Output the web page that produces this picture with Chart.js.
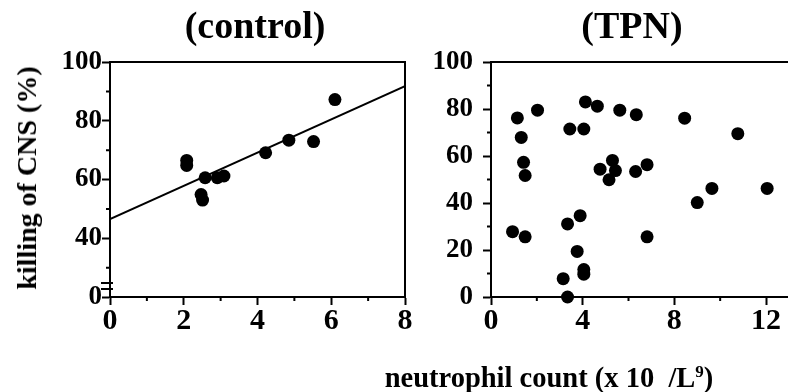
<!DOCTYPE html>
<html>
<head>
<meta charset="utf-8">
<script src="https://cdn.jsdelivr.net/npm/chart.js@4/dist/chart.umd.min.js"></script>
<style>
  body { margin: 0; background: #fff; width: 788px; height: 392px; overflow: hidden; position: relative; font-family: "Liberation Serif", serif; }
  .box { position: absolute; top: 0; height: 392px; }
  .lbl { position: absolute; font-weight: bold; color: #000; white-space: nowrap; line-height: 1; }
  .title { font-size: 38px; top: 6px; transform: translateX(-50%); }
  #ylab { font-size: 28px; left: 27px; top: 178px; transform: translate(-50%, -50%) rotate(-90deg); }
  #xlab { font-size: 28.5px; left: 549px; top: 364px; transform: translateX(-50%); }
  sup { font-size: 17px; line-height: 0; }
</style>
</head>
<body>
<div class="box" style="left:0;width:440px"><canvas id="controlChart" width="440" height="392"></canvas></div>
<div class="box" style="left:420px;width:380px"><canvas id="tpnChart" width="380" height="392"></canvas></div>
<div class="lbl title" style="left:255px">(control)</div>
<div class="lbl title" style="left:632px">(TPN)</div>
<div class="lbl" id="ylab">killing of CNS (%)</div>
<div class="lbl" id="xlab">neutrophil count (x 10&nbsp;&nbsp;/L<sup>9</sup>)</div>
<script>
// control group: neutrophil count vs killing
const controlX = [2.08, 2.08, 2.47, 2.51, 2.58, 2.91, 3.09, 4.22, 4.85, 5.52, 6.10];
const controlY = [66.5, 64.8, 54.9, 53.0, 60.6, 60.6, 61.2, 69.1, 73.4, 72.9, 87.2];
// regression line end points
const fitX = [0, 8];
const fitY = [46.5, 91.8];

// TPN group
const tpnX = [0.94, 1.15, 1.32, 1.42, 1.49, 1.49, 2.03, 3.15, 3.34, 3.34, 3.44, 3.76, 3.89, 4.05, 4.05, 4.05,
              4.12, 4.64, 4.76, 5.15, 5.30, 5.43, 5.62, 6.31, 6.34, 6.81, 6.81, 8.45, 9.0, 9.64, 10.77, 12.05];
const tpnY = [27.8, 76.2, 67.9, 57.3, 51.7, 25.6, 79.5, 7.8, 0, 31.1, 71.5, 19.4, 34.6, 71.5, 11.7, 9.7,
              83.0, 81.2, 54.4, 49.9, 58.1, 53.8, 79.5, 53.4, 77.6, 56.3, 25.6, 76.1, 40.2, 46.2, 69.5, 46.2];

const controlXTicks = [0, 2, 4, 6, 8];
const controlYTicks = [20, 40, 60, 80, 100];   // 20 sits on the broken axis and reads "0"
const tpnXTicks = [0, 4, 8, 12];
const tpnYTicks = [0, 20, 40, 60, 80, 100];

const YFONT = { family: 'Liberation Serif', size: 27, weight: 'bold' };
const XFONT = { family: 'Liberation Serif', size: 30, weight: 'bold' };

function pts(xs, ys) {
  return xs.map((x, i) => ({ x: x, y: ys[i] }));
}

// minor ticks, top/right frame and axis break
const framePlugin = {
  id: 'frame',
  afterDraw(chart, args, opts) {
    const c = chart.ctx;
    const a = chart.chartArea;
    const xs = chart.scales.x, ys = chart.scales.y;
    c.save();
    c.strokeStyle = '#000';
    c.lineWidth = 2;
    c.beginPath();
    c.moveTo(a.left, a.top);
    c.lineTo(a.right, a.top);
    if (opts.right) {
      c.lineTo(a.right, a.bottom);
    }
    opts.minorX.forEach(v => {
      const p = xs.getPixelForValue(v);
      c.moveTo(p, a.bottom);
      c.lineTo(p, a.bottom + 4);
    });
    opts.minorY.forEach(v => {
      const p = ys.getPixelForValue(v);
      c.moveTo(a.left, p);
      c.lineTo(a.left - 4, p);
    });
    if (opts.brk) {
      c.moveTo(a.left - 9, a.bottom - 14);
      c.lineTo(a.left + 3, a.bottom - 14);
      c.moveTo(a.left - 9, a.bottom - 8);
      c.lineTo(a.left + 3, a.bottom - 8);
    }
    c.stroke();
    c.restore();
  }
};

function axis(min, max, vals, fit, ticks) {
  return {
    type: 'linear',
    min: min,
    max: max,
    afterBuildTicks: s => { s.ticks = vals.map(v => ({ value: v })); },
    afterFit: fit,
    border: { display: true, color: '#000', width: 2 },
    grid: { display: true, drawOnChartArea: false, drawTicks: true, tickLength: 8, tickWidth: 2, color: '#000' },
    ticks: Object.assign({ color: '#000', padding: 0 }, ticks)
  };
}

new Chart(document.getElementById('controlChart'), {
  type: 'scatter',
  data: {
    datasets: [
      { data: pts(controlX, controlY), backgroundColor: '#000', borderWidth: 0, pointRadius: 6.5, clip: false },
      { type: 'line', data: pts(fitX, fitY), borderColor: '#000', borderWidth: 2, pointRadius: 0, fill: false }
    ]
  },
  options: {
    responsive: false,
    animation: false,
    layout: { padding: { top: 62, right: 35, bottom: 55, left: 0 } },
    plugins: {
      legend: { display: false },
      tooltip: { enabled: false },
      frame: { right: true, brk: true, minorX: [1, 3, 5, 7], minorY: [30, 50, 70, 90] }
    },
    scales: {
      x: axis(0, 8, controlXTicks, s => { s.height = 40; }, { font: XFONT, padding: -2 }),
      y: axis(20, 100, controlYTicks, s => { s.width = 110; }, {
        font: YFONT, padding: 0, callback: v => v === 20 ? '0' : v
      })
    }
  },
  plugins: [framePlugin]
});

new Chart(document.getElementById('tpnChart'), {
  type: 'scatter',
  data: {
    datasets: [
      { data: pts(tpnX, tpnY), backgroundColor: '#000', borderWidth: 0, pointRadius: 6.5, clip: false }
    ]
  },
  options: {
    responsive: false,
    animation: false,
    layout: { padding: { top: 62, right: 0, bottom: 55, left: 0 } },
    plugins: {
      legend: { display: false },
      tooltip: { enabled: false },
      frame: { right: false, brk: false, minorX: [2, 6, 10], minorY: [10, 30, 50, 70, 90] }
    },
    scales: {
      x: axis(0, 13.2, tpnXTicks, s => { s.height = 40; }, { font: XFONT, padding: -2 }),
      y: axis(0, 100, tpnYTicks, s => { s.width = 71; }, { font: YFONT, padding: 10 })
    }
  },
  plugins: [framePlugin]
});
</script>
</body>
</html>
